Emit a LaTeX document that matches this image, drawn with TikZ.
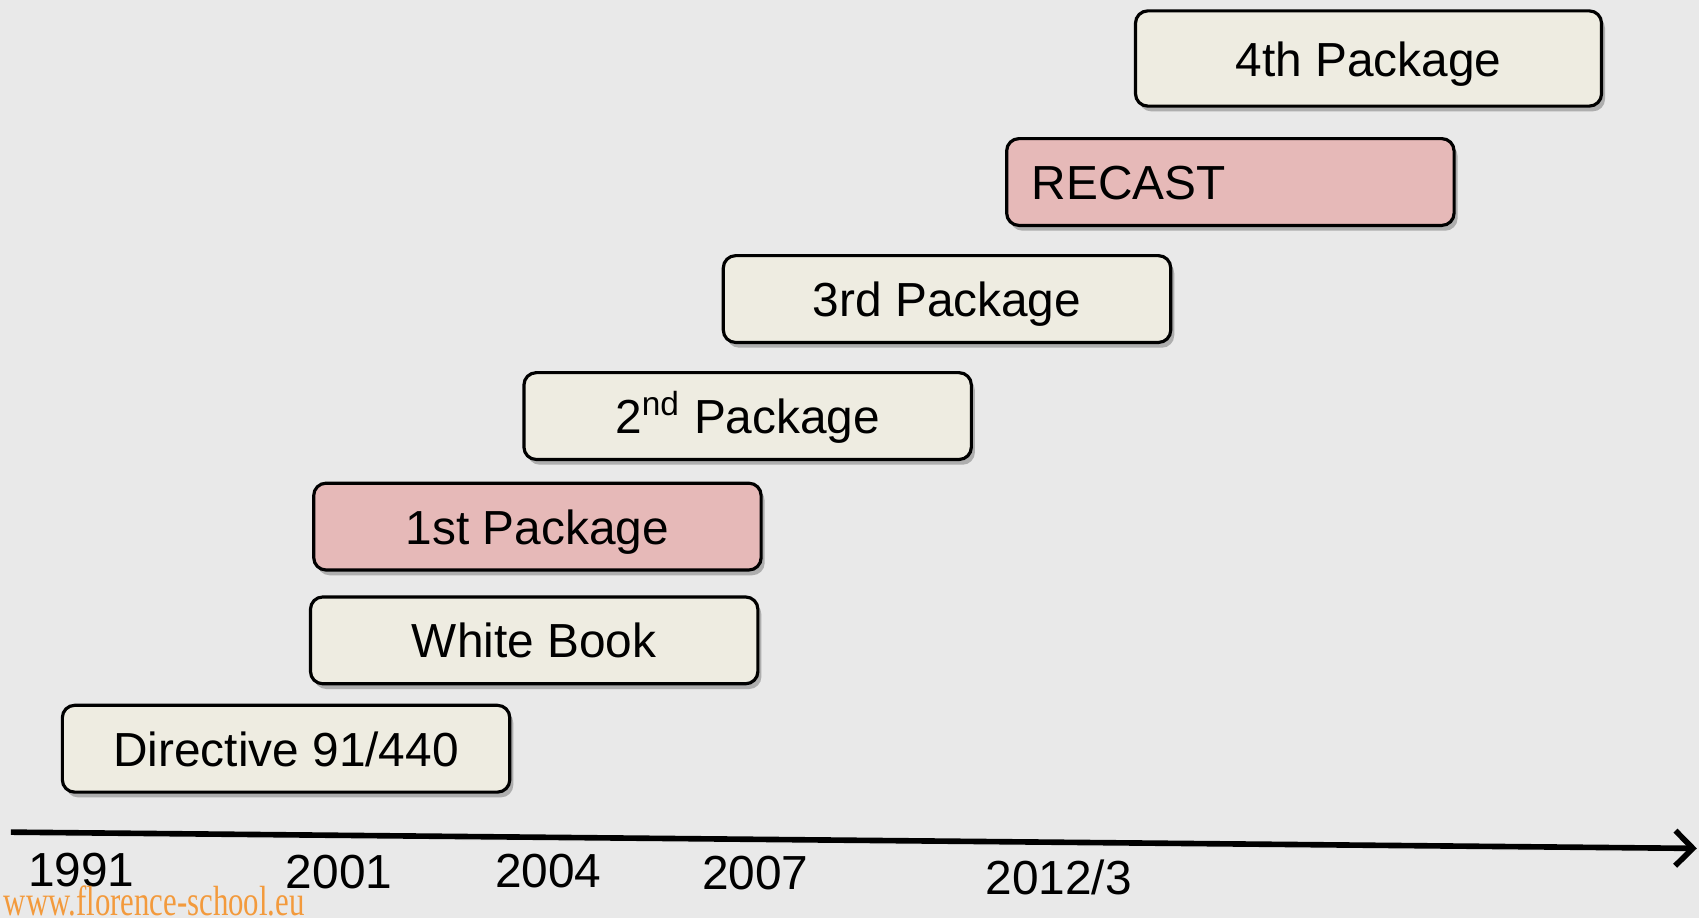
\documentclass[tikz,border=0pt]{standalone}
\usepackage{fontspec}
\setmainfont{Liberation Sans}
\newfontfamily\wwwfont{Liberation Serif}
\usetikzlibrary{positioning,arrows.meta,shadows}
\definecolor{bgGray}{HTML}{E9E9E9}
\definecolor{creamFill}{HTML}{EEECE1}
\definecolor{pinkFill}{HTML}{E6B9B8}
\definecolor{fsOrange}{HTML}{F39A3C}
\tikzset{
    stage/.style={draw=black, line width=0.9pt, rounded corners=3.5pt, fill=creamFill,
        minimum width=127.3pt, minimum height=24.7pt, inner sep=0pt,
        text height=10pt, text depth=0pt,
        font=\fontsize{13.6}{15}\selectfont,
        drop shadow={shadow xshift=1pt, shadow yshift=-1.5pt, opacity=0.25, fill=black}},
    year/.style={font=\fontsize{13.6}{15}\selectfont, inner sep=0pt}
}
\begin{document}
\begin{tikzpicture}[x=0.10836mm, y=-0.10836mm]
            % background
            \fill[bgGray] (0,0) rectangle (1568,847);
            \useasboundingbox (0,0) rectangle (1568,847);
            % time axis
            \coordinate (axis_start) at (10,768);
            \coordinate (axis_end) at (1566,783);
            \draw[line width=1.6pt, -{Straight Barb[length=5pt,width=10pt]},
                drop shadow={shadow xshift=0.6pt, shadow yshift=-1pt, opacity=0.25}] (axis_start) -- (axis_end);
            % stages
            \node[stage] (directive) at (264,691) {Directive 91/440};
            \node[stage] (white_book) at (493,591) {White Book};
            \node[stage, fill=pinkFill] (package_1) at (496,486) {1st Package};
            \node[stage] (package_2) at (690,384) {2\textsuperscript{nd} Package};
            \node[stage] (package_3) at (874,276) {3rd Package};
            \node[stage, fill=pinkFill, text width=113pt, align=left, inner xsep=7.1pt] (recast) at (1135.5,168) {RECAST};
            \node[stage, minimum width=132.6pt, minimum height=27.1pt] (package_4) at (1263,54) {4th Package};
            % years
            \foreach \yr/\x/\y in {1991/75/803, 2001/313/805, 2004/506/804, 2007/697/806, 2012\slash 3/977/810} {
                \node[year] (year_\x) at (\x,\y) {\yr};
            }
            \node[anchor=base west, inner sep=0pt, text=fsOrange] (website) at (3,845)
                {\wwwfont\fontsize{12}{13}\selectfont\scalebox{0.73}[1]{www.florence-school.eu}};
        \end{tikzpicture}
\end{document}
